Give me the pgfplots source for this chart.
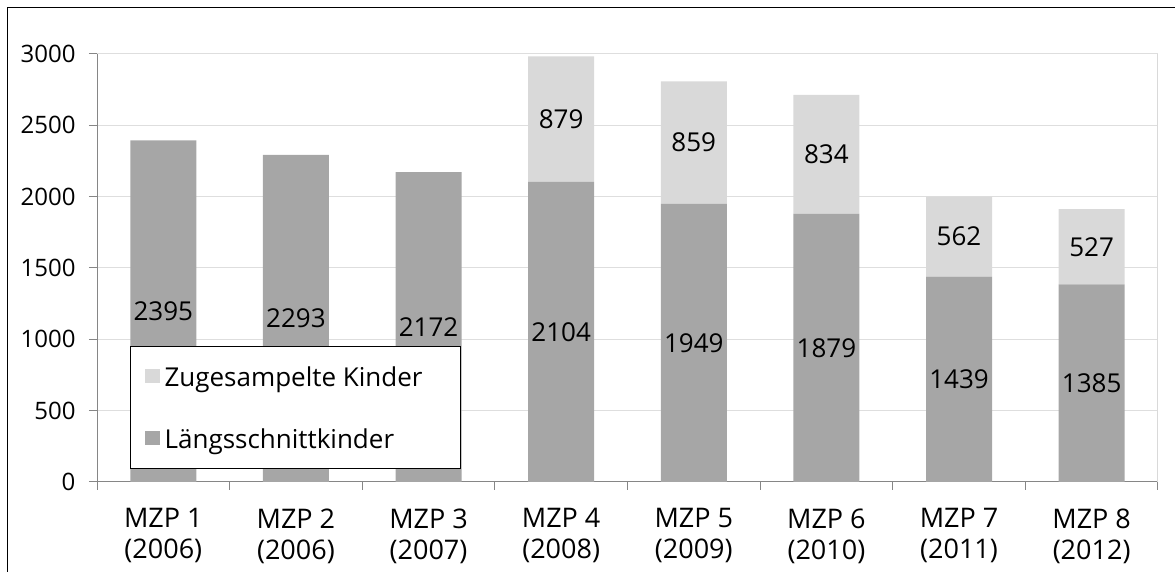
\documentclass[border=0pt]{standalone}
\usepackage{fontspec}
\setmainfont{Open Sans}
\usepackage{pgfplots}
\pgfplotsset{compat=1.18}
\usepackage{pgfplotstable}
\definecolor{dark}{HTML}{A6A6A6}
\definecolor{light}{HTML}{D9D9D9}
\definecolor{axisgray}{HTML}{868686}
\definecolor{gridgray}{HTML}{DEDEDE}
\pgfplotstableread{
x a b
0 2395 0
1 2293 0
2 2172 0
3 2104 879
4 1949 859
5 1879 834
6 1439 562
7 1385 527
}\datatable
\begin{document}
\begin{tikzpicture}[x=1pt,y=1pt]
\useasboundingbox (0,0) rectangle (1175,572);
\draw[black, line width=1.6pt] (7.5,0) -- (7.5,564.5) -- (1175,564.5);
\begin{axis}[
  at={(97pt,90pt)}, anchor=south west,
  width=1061pt, height=428pt, scale only axis,
  ybar stacked, bar width=66pt,
  xmin=-0.5, xmax=7.5, ymin=0, ymax=3000,
  ytick={0,500,...,3000},
  xtick={0,...,7},
  xticklabels={{MZP 1\\(2006)},{MZP 2\\(2006)},{MZP 3\\(2007)},{MZP 4\\(2008)},{MZP 5\\(2009)},{MZP 6\\(2010)},{MZP 7\\(2011)},{MZP 8\\(2012)}},
  minor xtick={-0.5,0.5,...,7.5},
  every major x tick/.append style={draw=none},
  tick align=outside,
  major tick length=8pt, minor tick length=8pt,
  tick style={axisgray, line width=1pt},
  axis x line*=bottom, axis y line*=left,
  axis line style={axisgray, line width=1pt, -},
  ymajorgrids, grid style={gridgray, line width=1pt},
  /pgf/number format/1000 sep={},
  /pgf/number format/assume math mode=true,
  yticklabel style={font=\fontsize{24}{28}\selectfont, xshift=-10pt},
  xticklabel style={font=\fontsize{27}{31}\selectfont, align=center, yshift=-15pt},
  point meta=explicit symbolic,
  nodes near coords={\ifdim\pgfplotspointmeta pt=0pt \else\pgfplotspointmeta\fi},
  every node near coord/.append style={font=\fontsize{26}{30}\selectfont, black,
    anchor=center},
  reverse legend,
  legend cell align=left,
  legend style={at={(rel axis cs:0.0311,0.0304)}, anchor=south west, draw=black, line width=1.2pt,
    font=\fontsize{26}{30}\selectfont, inner xsep=14pt, inner ysep=9pt, row sep=20pt,
    nodes={inner sep=0pt, text height=31pt, text depth=11pt},
    /tikz/every odd column/.append style={column sep=5pt}},
  legend image code/.code={\fill[#1] (0pt,-7pt) rectangle (15pt,7pt);},
]
\addplot[fill=dark, draw=none] table[x=x, y=a, meta=a] {\datatable};
\addlegendentry{Längsschnittkinder}
\addplot[fill=light, draw=none] table[x=x, y=b, meta=b] {\datatable};
\addlegendentry{Zugesampelte Kinder\hspace*{24pt}}
\draw[light, line width=1pt] (rel axis cs:1,0) -- (rel axis cs:1,1);
\end{axis}
\end{tikzpicture}
\end{document}
